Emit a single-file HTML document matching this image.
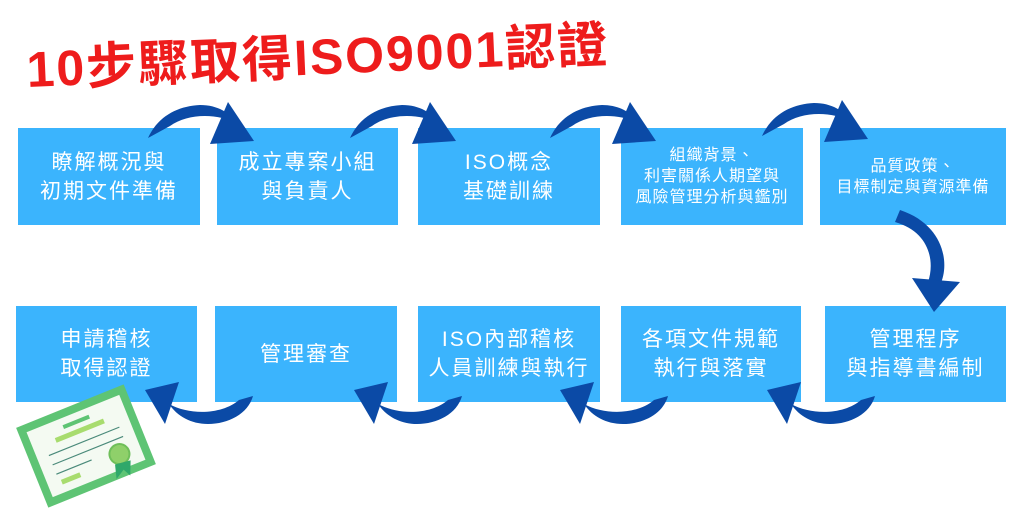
<!DOCTYPE html>
<html><head><meta charset="utf-8"><style>
body{margin:0;width:1024px;height:512px;background:#fff;position:relative;overflow:hidden;font-family:"Liberation Sans","Noto Sans CJK TC",sans-serif}
.b{position:absolute;background:#3bb4fd;color:#fff;display:flex;align-items:center;justify-content:center;text-align:center;font-size:21px;line-height:29px;letter-spacing:2px}
.s{font-size:16px;line-height:21px;letter-spacing:1px}
.t{position:absolute;left:28px;top:30px;font-size:50px;font-weight:bold;color:#ee1c1c;transform:rotate(-2.5deg);transform-origin:left bottom;white-space:nowrap;letter-spacing:2px}
svg{position:absolute;left:0;top:0}
</style></head><body>
<div class="t">10步驟取得ISO9001認證</div>
<div class="b" style="left:18px;top:128px;width:182px;height:97px">瞭解概況與<br>初期文件準備</div>
<div class="b" style="left:217px;top:128px;width:181px;height:97px">成立專案小組<br>與負責人</div>
<div class="b" style="left:418px;top:128px;width:182px;height:97px">ISO概念<br>基礎訓練</div>
<div class="b s" style="left:621px;top:128px;width:182px;height:97px">組織背景、<br>利害關係人期望與<br>風險管理分析與鑑別</div>
<div class="b s" style="left:820px;top:128px;width:186px;height:97px">品質政策、<br>目標制定與資源準備</div>
<div class="b" style="left:16px;top:306px;width:181px;height:96px">申請稽核<br>取得認證</div>
<div class="b" style="left:215px;top:306px;width:182px;height:96px">管理審查</div>
<div class="b" style="left:418px;top:306px;width:182px;height:96px">ISO內部稽核<br>人員訓練與執行</div>
<div class="b" style="left:621px;top:306px;width:180px;height:96px">各項文件規範<br>執行與落實</div>
<div class="b" style="left:825px;top:306px;width:181px;height:96px">管理程序<br>與指導書編制</div>
<svg width="1024" height="512">
<defs><g id="a"><path d="M0 0 C10 -22 30 -32 52 -33 C70 -33 82 -25 90 -14 C70 -25 40 -25 22 -12 Z" fill="#0b4aa6"/><polygon points="80,-36 106,3 62,6" fill="#0b4aa6"/></g>
<g id="d"><path d="M0 0 C-5 18 -25 28 -45 28 C-62 28 -76 20 -84 8 C-62 20 -30 18 -14 4 Z" fill="#0b4aa6"/><polygon points="-74,-14 -108,-6 -88,28" fill="#0b4aa6"/></g></defs>
<use href="#a" x="148" y="138"/><use href="#a" x="350" y="138"/><use href="#a" x="550" y="138"/><use href="#a" x="762" y="136"/>
<path d="M900 210 C945 225 950 265 940 285 L928 282 C935 262 930 232 895 222 Z" fill="#0b4aa6"/><polygon points="912,278 960,282 934,312" fill="#0b4aa6"/>
<use href="#d" x="875" y="396"/><use href="#d" x="668" y="396"/><use href="#d" x="462" y="396"/><use href="#d" x="253" y="396"/>
<g transform="translate(86,446) rotate(-22)">
<rect x="-58" y="-43" width="116" height="86" fill="#5ec474"/><rect x="-50" y="-35" width="100" height="70" fill="#f4faf2"/>
<rect x="-14" y="-28" width="28" height="4" fill="#5ec474"/><rect x="-26" y="-19" width="52" height="5" fill="#a8dc6e"/>
<line x1="-38" y1="-5" x2="38" y2="-5" stroke="#4a8a7a" stroke-width="1.2"/><line x1="-38" y1="5" x2="38" y2="5" stroke="#4a8a7a" stroke-width="1.2"/><line x1="-38" y1="15" x2="0" y2="15" stroke="#4a8a7a" stroke-width="1.2"/>
<rect x="-36" y="22" width="20" height="5" fill="#a8dc6e"/>
<circle cx="28" cy="20" r="10" fill="#8fd06a" stroke="#6fbf5a" stroke-width="2"/><polygon points="20,28 16,42 26,36 30,44 36,30" fill="#2fa86a"/>
</g>
</svg>
</body></html>
